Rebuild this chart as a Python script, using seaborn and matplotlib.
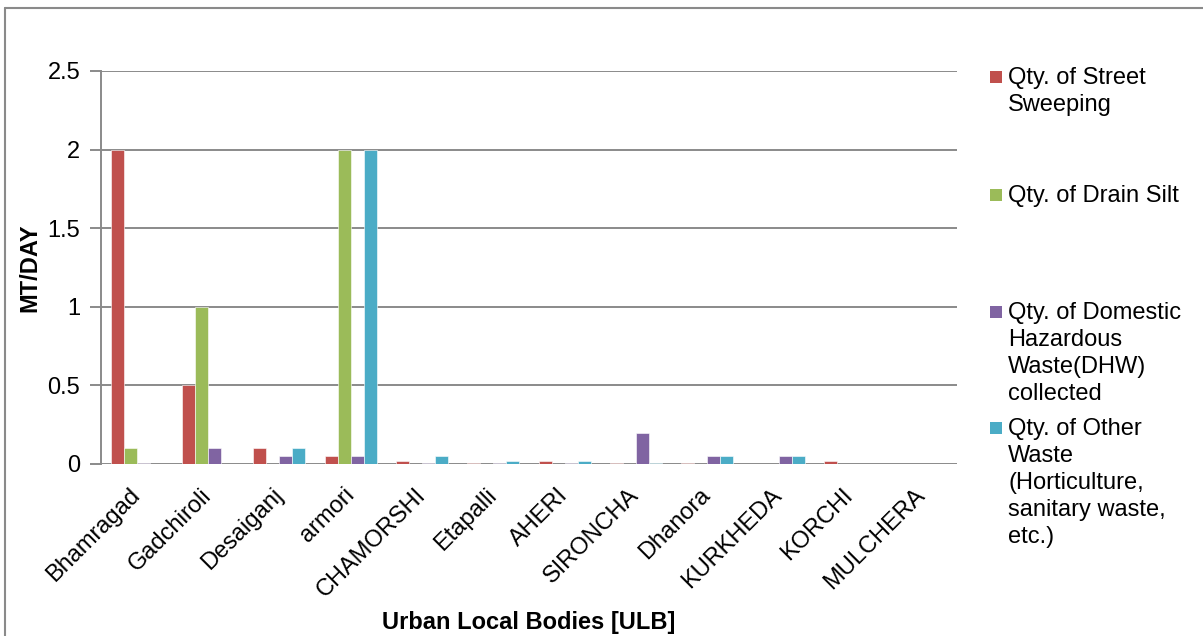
import matplotlib
matplotlib.use("Agg")
import matplotlib.pyplot as plt
from matplotlib.patches import Rectangle
from matplotlib.lines import Line2D
import pandas as pd
import seaborn as sns

sns.set_theme(style="white")
plt.rcParams["font.family"] = ["Liberation Sans", "DejaVu Sans"]
plt.rcParams.update({"text.color": "black", "axes.labelcolor": "black",
                     "xtick.color": "black", "ytick.color": "black"})

# Urban local bodies and their daily quantities (MT/DAY)
ulbs = ["Bhamragad", "Gadchiroli", "Desaiganj", "armori", "CHAMORSHI", "Etapalli",
        "AHERI", "SIRONCHA", "Dhanora", "KURKHEDA", "KORCHI", "MULCHERA"]
street_sweeping = [2.0, 0.5, 0.1, 0.05, 0.02, 0.005, 0.02, 0.005, 0.005, 0.003, 0.02, 0.0]
drain_silt = [0.1, 1.0, 0.0, 2.0, 0.0, 0.0, 0.0, 0.0, 0.0, 0.0, 0.0, 0.0]
domestic_hazardous = [0.005, 0.1, 0.05, 0.05, 0.005, 0.005, 0.005, 0.2, 0.05, 0.05, 0.0, 0.0]
other_waste = [0.0, 0.0, 0.1, 2.0, 0.05, 0.02, 0.02, 0.005, 0.05, 0.05, 0.0, 0.0]

series_labels = [
    "Qty. of Street\nSweeping",
    "Qty. of Drain Silt",
    "Qty. of Domestic\nHazardous\nWaste(DHW)\ncollected",
    "Qty. of Other\nWaste\n(Horticulture,\nsanitary waste,\netc.)",
]
series_values = [street_sweeping, drain_silt, domestic_hazardous, other_waste]
colors = ["#C0504D", "#9BBB59", "#8064A2", "#4BACC6"]

rows = []
for label, vals in zip(series_labels, series_values):
    for ulb, v in zip(ulbs, vals):
        rows.append({"ULB": ulb, "Series": label, "Value": v})
df = pd.DataFrame(rows)

FS = 17
W, H = 1203, 636
fig = plt.figure(figsize=(W / 100, H / 100), dpi=100)
ax = fig.add_axes([101 / W, 1 - 464 / H, (957 - 101) / W, (464 - 71) / H])

sns.barplot(data=df, x="ULB", y="Value", hue="Series", order=ulbs,
            hue_order=series_labels, palette=colors, width=0.73,
            errorbar=None, legend=False, ax=ax, saturation=1,
            edgecolor="#ffffff", linewidth=0.4)

ax.set_ylim(0, 2.5)
ax.set_xlim(-0.5, len(ulbs) - 0.5)
ax.set_yticks([0, 0.5, 1, 1.5, 2, 2.5])
ax.set_yticklabels(["0", "0.5", "1", "1.5", "2", "2.5"])
grid_color = "#8a8a8a"
ax.yaxis.grid(True, color=grid_color, linewidth=1.4)
ax.set_axisbelow(True)
for side in ["top", "right", "bottom"]:
    ax.spines[side].set_visible(False)
ax.spines["left"].set_color(grid_color)
ax.spines["left"].set_linewidth(1.4)
ax.tick_params(axis="y", length=8, width=1.4, color=grid_color, pad=7,
               labelsize=FS, left=True, labelcolor="black")
ax.tick_params(axis="x", length=0, pad=20, labelsize=FS, labelcolor="black")
for lbl in ax.get_xticklabels():
    lbl.set_rotation(45)
    lbl.set_ha("right")
    lbl.set_va("center")
    lbl.set_rotation_mode("anchor")

ax.set_ylabel("MT/DAY", fontsize=FS, fontweight="bold")
ax.yaxis.label.set_va("center")
ax.yaxis.set_label_coords((30 - 101) / (957 - 101), (464 - 268) / (464 - 71))
ax.set_xlabel("Urban Local Bodies [ULB]", fontsize=FS, fontweight="bold")
ax.xaxis.label.set_va("center")
ax.xaxis.set_label_coords((529 - 101) / (957 - 101), -(622 - 464) / (464 - 71))

# Legend on the right
entry_y = [77, 195, 312, 428]
for label, color, yc in zip(series_labels, colors, entry_y):
    fig.add_artist(Rectangle((990 / W, 1 - (yc + 6) / H), 12 / W, 12 / H,
                             transform=fig.transFigure, facecolor=color,
                             edgecolor="none"))
    fig.text(1008 / W, 1 - (yc - 10) / H, label, fontsize=FS, va="top",
             ha="left", linespacing=1.30, color="black")

# Chart frame
frame_kw = dict(color="#8a8a8a", linewidth=1.5, transform=fig.transFigure)
fig.add_artist(Line2D([5 / W, 1], [1 - 7.5 / H, 1 - 7.5 / H], **frame_kw))
fig.add_artist(Line2D([5 / W, 5 / W], [0, 1 - 7.5 / H], **frame_kw))

fig.savefig("out.png", dpi=100)
